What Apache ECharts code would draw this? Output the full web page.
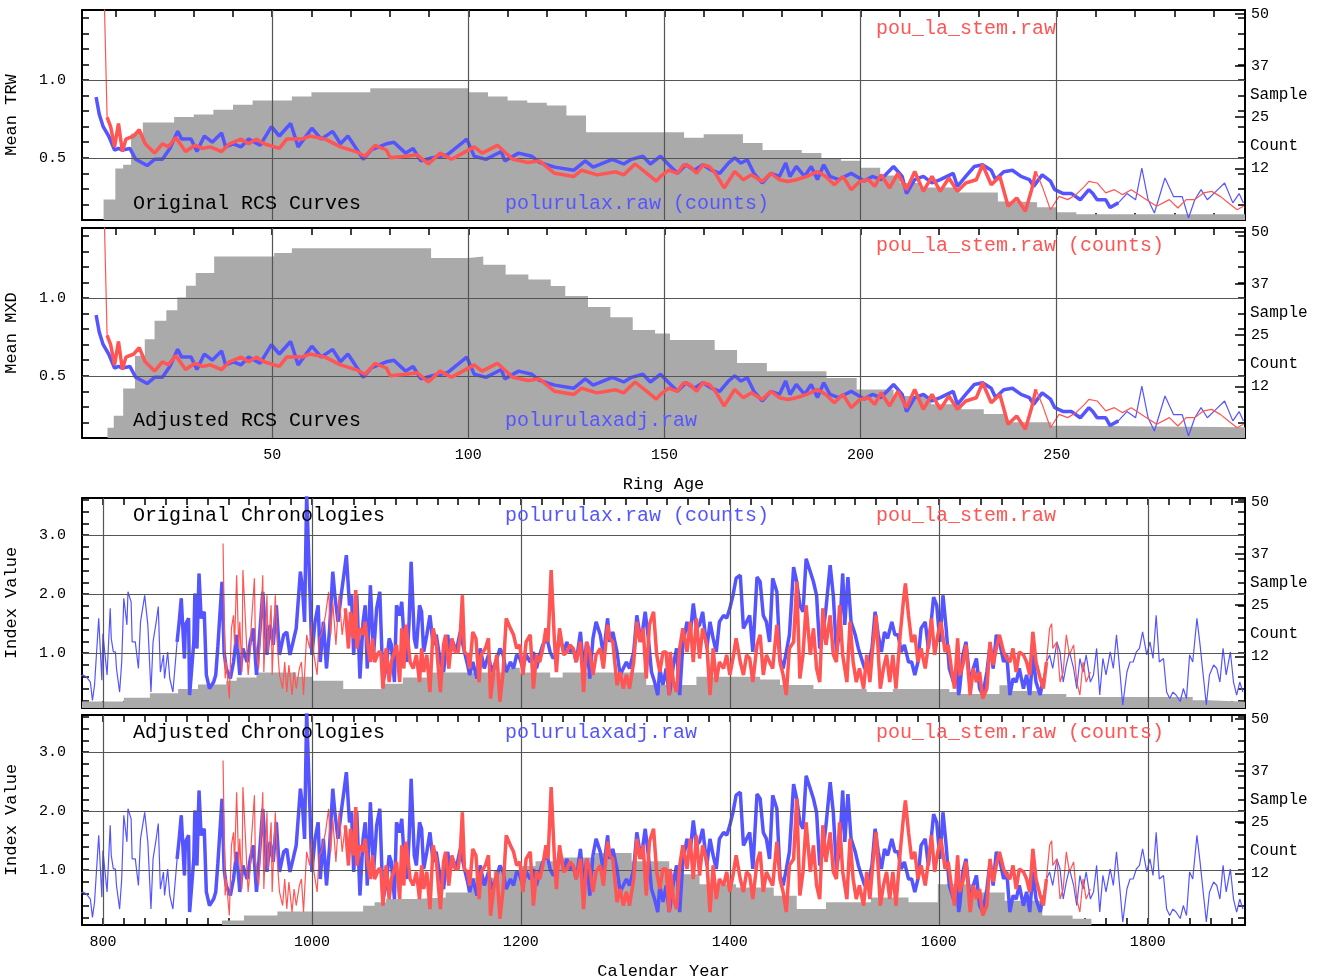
<!DOCTYPE html>
<html><head><meta charset="utf-8">
<script src="https://cdn.jsdelivr.net/npm/echarts@6.0.0/dist/echarts.min.js"></script>
<style>html,body{margin:0;padding:0;background:#fff}#c{width:1327px;height:980px}</style>
</head><body><div id="c"></div>
<script>
// ---- RCS curves: [ring age, mean value]
const rcsBlue = [[5.1,.89],[5.9,.78],[6.9,.70],[8.3,.64],[9.8,.55],[10.8,.56],[11.8,.55],[13.7,.56],[15.2,.49],[18.1,.45],[20.0,.49],[22.0,.49],[23.9,.56],[25.9,.67],[26.9,.62],[29.3,.62],[30.8,.54],[32.7,.64],[34.7,.60],[37.1,.66],[38.1,.57],[40.1,.59],[42.0,.57],[44.0,.62],[46.9,.58],[49.8,.70],[51.8,.64],[54.7,.72],[56.6,.57],[60.1,.69],[62.5,.62],[65.4,.67],[67.4,.59],[69.3,.64],[73.2,.49],[75.2,.55],[79.1,.59],[81.0,.60],[84.0,.53],[85.9,.56],[87.9,.48],[90.8,.50],[94.7,.52],[99.6,.62],[101.5,.51],[104.5,.49],[108.4,.54],[109.3,.48],[112.8,.53],[116.2,.51],[118.1,.47],[122.0,.44],[126.9,.42],[129.8,.48],[131.8,.44],[136.7,.49],[139.6,.46],[141.6,.49],[144.5,.51],[146.4,.46],
  [149.0,.51],[151.1,.455],[153.3,.40],[155.5,.455],[157.6,.42],[159.8,.455],[162.0,.42],[164.1,.40],[166.3,.466],[167.9,.50],[169.5,.466],[171.1,.487],[172.8,.40],[174.9,.338],[177.1,.40],[179.3,.38],[180.9,.466],[182.0,.38],[183.6,.444],[185.7,.38],[187.4,.444],[189.0,.36],[190.6,.455],[192.2,.38],[194.4,.36],[197.6,.40],[200.9,.35],[203.0,.38],[205.2,.36],[208.4,.444],[210.6,.38],[211.7,.27],[213.8,.36],[216.0,.38],[218.2,.338],[220.3,.36],[223.6,.40],[224.7,.316],[226.8,.38],[229.0,.444],[231.1,.455],[233.3,.42],[234.4,.36],[236.5,.41],[238.7,.42],[240.9,.38],[243.0,.36],[244.1,.316],[246.3,.39],[248.4,.35],[249.5,.295],[251.7,.27],[253.8,.27],[256.0,.23],[258.2,.295],[259.2,.27],[260.3,.23],[262.5,.23],[263.6,.18],[265.7,.21],[267.9,.27],[270.1,.23],[271.7,.434],[273.3,.23],[274.9,.145],[277.6,.37],[279.8,.25],[282.0,.25],[283.6,.113],[285.2,.23],[286.8,.295],[288.4,.23],[290.6,.284],[292.8,.338],[294.9,.21],[296.5,.27],[297.6,.21]];
const rcsRed = [[7.1,1.6],[7.9,.76],[8.8,.70],[9.8,.57],[10.8,.72],[11.8,.54],[12.7,.62],[14.7,.64],[16.1,.68],[17.6,.59],[20.0,.53],[22.0,.59],[23.5,.57],[25.4,.63],[27.9,.54],[30.3,.58],[32.2,.56],[34.2,.57],[37.1,.54],[39.1,.59],[42.0,.62],[44.0,.59],[45.9,.62],[47.9,.59],[51.8,.56],[53.7,.62],[57.6,.62],[59.6,.64],[63.5,.62],[67.4,.57],[71.3,.54],[73.7,.51],[76.2,.58],[79.1,.55],[80.1,.50],[84.0,.51],[86.9,.52],[89.8,.46],[92.8,.53],[95.7,.49],[98.6,.53],[101.5,.57],[103.5,.53],[107.4,.58],[111.3,.49],[115.2,.47],[118.1,.48],[122.0,.40],[126.9,.38],[128.9,.42],[132.8,.39],[137.6,.41],[139.6,.39],[142.5,.46],[145.5,.40],[147.9,.35],
  [149.0,.38],[151.1,.42],[153.3,.40],[154.9,.455],[156.5,.444],[158.2,.40],[159.8,.455],[161.4,.444],[163.0,.40],[165.2,.306],[167.9,.412],[170.1,.359],[172.2,.391],[174.9,.348],[177.1,.40],[179.3,.359],[181.4,.348],[183.6,.359],[186.3,.38],[189.0,.412],[191.1,.38],[193.3,.327],[195.5,.38],[197.6,.295],[199.8,.348],[202.0,.359],[203.6,.316],[205.2,.391],[207.4,.306],[209.5,.40],[211.7,.295],[213.8,.412],[216.0,.284],[218.2,.38],[220.3,.284],[222.5,.37],[224.7,.284],[226.8,.338],[229.5,.359],[231.1,.455],[233.3,.327],[235.5,.38],[237.6,.188],[239.8,.241],[242.0,.156],[243.6,.295],[244.7,.412],[246.3,.316],[248.4,.166],[250.6,.252],[252.8,.231],[254.9,.263],[257.1,.316],[258.2,.348],[260.3,.338],[262.5,.274],[264.7,.295],[266.8,.263],[269.0,.295],[272.2,.241],[275.5,.188],[278.7,.231],[280.9,.177],[283.0,.231],[285.2,.231],[287.4,.274],[289.5,.284],[291.7,.252],[293.8,.209],[296.0,.166],[297.6,.188]];
// sample counts by ring age (step)
const countOrigRcs = [[4,0],[7,5],[10,12.5],[12,13.4],[14,21],[17,23.7],[25,25],[30,25.6],[35,26.8],[40,28],[45,29],[55,30],[60,31],[75,32],[100,31],[105,30],[110,29],[115,28.5],[120,27.8],[125,25.4],[130,21.3],[155,20],[160,20.8],[170,18.7],[175,17],[185,16.3],[190,15],[195,14.4],[200,12.7],[205,10.8],[210,9],[215,7.9],[225,6.7],[235,4.5],[240,4.3],[245,3.1],[250,1.9],[255,1.4],[298,1.4]];
const countAdjRcs = [[6,0],[8,2.5],[9.6,5.4],[12,12],[15,20],[17.5,24],[20,28.5],[23,31],[25.8,34.1],[28,37],[30.5,40.1],[35.2,44.1],[50.5,44.9],[55,46.1],[84.7,46.1],[90.5,43.7],[100,44.1],[103.8,42.1],[109.5,39.7],[115.3,38.5],[121,36.9],[124.7,34.5],[130.5,31.8],[136.2,29.3],[141.9,26.2],[147.6,25.4],[151.4,23.8],[162.8,21.4],[168.5,18.2],[176.1,16.2],[191.3,14.6],[199,11.8],[208.4,10.2],[218,8.2],[225.7,7.0],[231.4,5.8],[237.2,3.8],[248.6,3.0],[255,2.6],[298,2.6]];

// ---- chronologies: [year, index]
const chronBlue = [[778,.60],[781,.63],[784,.60],[788,.51],[790,.20],[792,.46],[796,1.59],[799,.54],[800,1.33],[804,.63],[807,1.76],[808,1.25],[810,1.02],[812,1.02],[813,.74],[816,.34],[818,.85],[820,1.93],[823,1.48],[824,2.04],[827,1.87],[828,1.19],[831,1.19],[834,.74],[836,1.53],[840,1.98],[843,1.48],[846,.34],[848,1.19],[851,1.53],[853,1.79],[855,.68],[858,.97],[859,.57],[862,1.02],[864,.57],[867,.34],[871,1.19],[873,1.53],[875,1.93],[878,.91],[879,1.48],[882,1.59],[883,.29],[887,1.19],[888,2.01],[890,1.08],[892,2.35],[894,1.59],[897,1.70],[899,.63],[902,.40],[906,.51],[908,.63],[910,1.11],[914,2.21],[916,1.02],[918,.74],[922,.57],[925,.85],[928,1.31],[931,.63],[934,1.08],[938,.85],[941,1.19],[944,1.42],[947,.63],[950,1.31],[953,2.04],[957,.97],[960,1.48],[963,1.14],[966,1.81],[969,.97],[973,1.31],[976,1.36],[979,.97],[982,1.19],[985,1.42],[989,2.38],[991,2.10],[993,1.53],[995,3.70],[998,2.10],[1000,.97],[1003,1.53],[1006,1.81],[1008,.85],[1011,1.53],[1014,.74],[1017,1.42],[1020,2.38],[1022,1.98],[1025,1.53],[1028,1.98],[1031,2.38],[1033,2.66],[1036,1.81],[1038,1.98],[1040,.97],[1043,1.98],[1046,.57],[1049,1.53],[1051,1.81],[1053,.74],[1056,2.15],[1059,.97],[1062,1.76],[1065,2.04],
  [1068,.51],[1071,.74],[1074,1.25],[1076,1.14],[1079,.51],[1081,1.81],[1084,1.64],[1086,1.87],[1088,1.31],[1091,.85],[1093,1.53],[1095,2.55],[1098,1.25],[1100,1.08],[1103,1.81],[1105,1.70],[1107,1.02],[1110,1.31],[1113,1.64],[1116,1.14],[1119,1.31],[1123,.85],[1126,.68],[1130,1.31],[1132,.97],[1135,1.19],[1138,1.02],[1142,1.36],[1146,1.02],[1149,.80],[1151,.63],[1154,.85],[1158,.57],[1161,1.08],[1165,.74],[1169,.97],[1172,.68],[1176,.85],[1180,1.08],[1183,.97],[1186,.68],[1190,.85],[1193,.74],[1196,.97],[1199,.91],[1202,.74],[1205,.97],[1209,.85],[1212,1.02],[1215,.74],[1218,.97],[1221,1.14],[1225,1.25],[1228,1.02],[1231,.91],[1234,.97],[1237,1.31],[1241,1.02],[1244,1.19],[1247,1.02],[1250,1.08],[1253,.85],[1257,1.36],[1260,.74],[1263,1.19],[1266,.57],[1269,1.25],[1272,1.53],[1276,1.31],[1279,.97],[1283,1.59],[1285,1.19],[1288,1.36],[1292,1.02],[1295,.63],[1298,.74],[1301,.85],[1304,.74],[1308,1.02],[1311,1.64],[1315,1.19],[1319,1.70],[1322,1.25],[1325,.68],[1328,.51],[1331,.29],[1333,.74],[1336,.46],[1339,.74],[1342,.29],
  [1343,.40],[1346,.80],[1349,1.08],[1352,.29],[1355,1.14],[1359,1.53],[1362,1.31],[1365,1.84],[1368,1.42],[1371,1.48],[1374,1.70],[1378,1.08],[1381,1.53],[1384,1.25],[1387,1.02],[1390,1.53],[1394,1.64],[1397,1.59],[1400,1.76],[1403,1.98],[1406,2.27],[1410,2.32],[1413,1.42],[1416,1.53],[1419,1.64],[1422,1.02],[1426,2.29],[1429,2.21],[1432,1.64],[1435,1.53],[1438,1.19],[1441,2.27],[1445,2.04],[1448,.91],[1451,.74],[1454,1.02],[1457,1.31],[1461,2.46],[1464,2.21],[1467,1.81],[1470,1.70],[1473,2.60],[1477,2.38],[1480,2.21],[1483,1.98],[1486,1.08],[1489,1.31],[1492,1.76],[1496,2.49],[1499,1.98],[1502,1.02],[1505,1.36],[1508,2.35],[1510,1.48],[1513,2.29],[1516,1.53],[1520,1.31],[1523,1.08],[1526,.91],[1529,.74],[1532,.74],[1536,1.08],[1539,1.70],[1542,1.31],[1545,1.02],[1548,1.36],[1551,1.25],[1555,1.53],[1558,1.31],[1561,1.31],[1564,1.02],[1567,1.14],[1571,.85],[1574,.85],[1577,.63],[1580,.85],[1583,1.42],[1587,1.53],[1590,1.08],[1593,1.59],[1595,1.95],[1598,1.81],[1601,1.19],[1604,1.98],[1607,1.42],[1610,.74],[1614,.51],[1617,.74],[1619,.29],
  [1620,.40],[1623,.97],[1626,1.19],[1630,.46],[1633,.74],[1636,.91],[1639,.40],[1642,.29],[1646,.68],[1649,1.14],[1652,.74],[1655,1.31],[1658,1.19],[1662,.85],[1665,.97],[1668,.29],[1671,.57],[1674,.51],[1677,.74],[1681,.40],[1684,.63],[1687,.29],[1690,.97],[1693,.51],[1697,.29],[1700,.57],[1703,.85],[1706,.97],[1709,.74],[1713,1.19],[1716,1.02],[1719,.51],[1722,.80],[1725,1.02],[1729,.74],[1732,.40],[1735,.91],[1738,.68],[1741,.97],[1745,.51],[1748,.63],[1751,1.08],[1754,.29],[1757,.91],[1760,.63],[1764,1.02],[1767,.74],[1770,1.31],[1773,.74],[1776,.12],[1780,.68],[1783,.85],[1786,.85],[1789,1.02],[1792,1.08],[1795,1.36],[1799,.97],[1802,1.19],[1805,.91],[1808,1.64],[1811,.85],[1815,.91],[1818,.34],[1821,.23],[1824,.34],[1827,.29],[1831,.18],[1834,.40],[1837,.23],[1840,.97],[1843,.85],[1847,1.59],[1850,1.14],[1853,.63],[1856,.12],[1859,.63],[1863,.80],[1866,.74],[1869,.51],[1872,1.08],[1875,.63],[1879,1.02],[1882,.51],[1885,.29],[1888,.51],[1891,.34]];
const chronRed = [[915,2.86],[917,.57],[918,.85],[921,.23],[923,1.42],[925,1.64],[926,1.14],[928,2.32],[930,1.08],[931,1.53],[933,.68],[934,2.41],[936,1.70],[938,.97],[939,.63],[941,1.02],[942,1.48],[945,2.27],[946,1.14],[949,.74],[950,1.08],[953,2.32],[954,.68],[957,1.98],[958,1.02],[961,1.81],[962,.63],[965,1.98],[967,1.14],[969,.63],[972,.40],[974,.85],[976,.34],[978,.80],[981,.29],[983,.68],[985,.40],[988,.74],[990,.85],[992,.29],[995,1.31],[998,1.08],[1000,1.53],[1002,.97],[1005,.63],[1007,1.25],[1009,1.31],[1013,1.64],[1016,2.04],[1018,1.31],[1020,1.87],[1023,1.14],[1026,1.98],[1029,1.31],[1032,1.76],[1035,1.08],[1037,1.70],[1040,1.25],[1042,2.07],[1043,1.08],[1046,1.42],[1049,1.31],[1051,1.53],[1053,1.19],[1056,.85],[1058,1.25],[1060,.85],[1064,1.02],
  [1066,1.02],[1068,.40],[1071,1.08],[1074,.51],[1076,.85],[1079,1.02],[1081,1.14],[1084,.51],[1086,1.42],[1088,.74],[1090,1.48],[1092,1.19],[1094,.85],[1097,.74],[1100,.97],[1103,.51],[1105,1.08],[1107,.68],[1110,.97],[1113,.34],[1116,1.42],[1119,1.19],[1121,.74],[1123,.34],[1126,1.14],[1128,1.31],[1131,.74],[1134,1.25],[1137,1.02],[1140,1.02],[1142,1.31],[1144,1.98],[1146,1.02],[1149,.97],[1151,.74],[1154,1.36],[1157,1.25],[1160,.51],[1162,.97],[1166,1.08],[1169,1.25],[1171,.23],[1174,.68],[1177,.97],[1180,.18],[1183,.68],[1186,1.59],[1190,1.42],[1193,1.31],[1196,1.08],[1199,1.14],[1202,.63],[1205,1.19],[1209,1.31],[1212,.40],[1215,.97],[1218,.85],[1221,1.08],[1224,1.42],[1226,1.19],[1229,2.41],[1232,1.25],[1234,.68],[1237,1.42],[1241,.97],[1244,1.02],[1247,1.14],[1250,1.08],[1253,.85],[1257,1.19],[1260,.34],[1263,1.19],[1266,1.02],[1269,.63],[1272,.97],[1276,1.08],[1279,.74],[1283,1.48],[1285,1.25],[1288,1.19],[1292,.46],[1295,.68],[1298,.40],[1301,.63],[1304,.40],[1308,.85],[1311,1.53],[1314,1.19],[1317,1.42],[1320,.57],[1323,1.48],[1327,1.70],[1330,.97],[1333,.68],[1336,1.02],[1339,1.02],[1342,.29],
  [1343,1.02],[1346,.51],[1349,.34],[1352,1.08],[1355,1.42],[1359,1.02],[1362,1.53],[1365,.85],[1368,1.59],[1371,.91],[1374,1.42],[1378,1.14],[1381,.29],[1384,1.08],[1387,.51],[1390,.85],[1394,.74],[1397,.97],[1400,.63],[1403,.91],[1406,1.25],[1410,.85],[1413,.63],[1416,.97],[1419,.91],[1422,.51],[1426,1.14],[1429,1.31],[1432,.63],[1435,.97],[1438,.85],[1441,.74],[1445,1.48],[1448,.85],[1451,.63],[1454,.29],[1457,1.08],[1461,1.19],[1464,2.21],[1467,.57],[1470,.97],[1473,1.81],[1477,.97],[1480,1.42],[1483,.74],[1486,.51],[1489,1.76],[1492,1.14],[1496,1.64],[1499,.97],[1502,.85],[1505,1.81],[1508,.97],[1512,.51],[1515,1.53],[1518,.85],[1521,.51],[1524,.74],[1528,.40],[1531,.97],[1534,.51],[1537,1.14],[1540,1.64],[1544,.40],[1547,.74],[1550,.97],[1553,.51],[1556,.97],[1559,.40],[1563,1.31],[1566,1.87],[1568,2.18],[1571,1.64],[1574,1.19],[1577,1.31],[1580,.85],[1583,1.08],[1587,.74],[1590,1.14],[1593,1.59],[1596,.97],[1599,1.31],[1602,1.53],[1606,1.02],[1609,1.14],[1612,.74],[1615,.40],[1618,1.25],
  [1620,.63],[1623,.80],[1626,1.14],[1630,.29],[1633,.74],[1636,.51],[1639,.68],[1642,.23],[1646,.40],[1649,1.19],[1652,.80],[1655,1.08],[1658,1.31],[1662,1.02],[1665,.91],[1668,.85],[1671,1.08],[1674,.68],[1677,1.02],[1681,.97],[1684,.85],[1687,.63],[1690,1.36],[1693,.85],[1697,.57],[1700,.40],[1703,.85],[1706,1.42],[1708,1.50],[1709,1.08],[1713,1.19],[1716,.51],[1719,.68],[1722,1.31],[1725,.97],[1729,1.14],[1732,.51],[1735,.29],[1738,.85],[1741,.51],[1745,.68]];
const countOrigChron = [[778,1.6],[820,2.5],[845,3.6],[872,4.6],[891,5.7],[918,6.6],[928,7.4],[947,8.6],[985,7.6],[1001,6.6],[1030,4.6],[1067,5.9],[1087,7.4],[1113,8.6],[1183,9.8],[1199,8.6],[1228,7.4],[1240,8.6],[1320,5.6],[1368,7.6],[1429,6.9],[1448,5.6],[1480,4.6],[1531,3.9],[1556,4.6],[1610,3.9],[1620,3.4],[1658,5.5],[1666,4.1],[1697,3.4],[1722,2.7],[1843,1.9],[1859,1.5],[1893,1.5]];
const countAdjChron = [[914,1.1],[935,2.3],[967,3.3],[1049,4.7],[1060,5.5],[1071,6.3],[1099,6.7],[1128,7.9],[1149,11.5],[1174,13.1],[1199,14.3],[1214,15.5],[1235,16.4],[1271,17.5],[1306,15.5],[1342,12.3],[1371,9.9],[1406,9.1],[1442,7.1],[1464,3.9],[1492,5.5],[1535,6.7],[1571,5.5],[1599,9.9],[1635,7.9],[1663,5.9],[1699,2.3],[1728,1.5],[1746,0]];

// ---- tick labels
const ageLabels = [50, 100, 150, 200, 250];
const yearLabels = [800, 1000, 1200, 1400, 1600, 1800];
const rcsLabels = [0.5, 1.0];
const chronLabels = [1.0, 2.0, 3.0];
const countLabels = [12.5, 25, 37.5, 50];

const FONT = 'Liberation Mono';
const BLUE = '#5555ff', RED = '#ff5555', GRAY = '#aaaaaa';
const range = (a, b, s) => { const r = []; for (let v = a; v <= b + 1e-9; v += s) r.push(+v.toFixed(2)); return r; };
const within = (d, lo, hi) => d.filter(p => p[0] >= lo && p[0] <= hi);

const panels = [
  { top: 10, kind: 'rcs', count: countOrigRcs, yName: 'Mean TRW', blueThick: [0, 266], redThick: [7.8, 246],
    texts: [['Original RCS Curves', '#000', 133, 204], ['polurulax.raw (counts)', BLUE, 505, 204], ['pou_la_stem.raw', RED, 876, 29]] },
  { top: 228, kind: 'rcs', count: countAdjRcs, yName: 'Mean MXD', xName: 'Ring Age', blueThick: [0, 266], redThick: [7.8, 246],
    texts: [['Adjusted RCS Curves', '#000', 133, 421], ['polurulaxadj.raw', BLUE, 505, 421], ['pou_la_stem.raw (counts)', RED, 876, 246]] },
  { top: 498, kind: 'chron', count: countOrigChron, yName: 'Index Value', blueThick: [868, 1700], redThick: [1030, 1703],
    texts: [['Original Chronologies', '#000', 133, 516], ['polurulax.raw (counts)', BLUE, 505, 516], ['pou_la_stem.raw', RED, 876, 516]] },
  { top: 715, kind: 'chron', count: countAdjChron, yName: 'Index Value', xName: 'Calendar Year', blueThick: [868, 1700], redThick: [1030, 1703],
    texts: [['Adjusted Chronologies', '#000', 133, 733], ['polurulaxadj.raw', BLUE, 505, 733], ['pou_la_stem.raw (counts)', RED, 876, 733]] }
];

const grid = [], xAxis = [], yAxis = [], series = [], graphic = [];
const frame = { show: true, onZero: false, lineStyle: { color: '#000', width: 2 } };

panels.forEach((p, g) => {
  const rcs = p.kind === 'rcs';
  const xr = rcs ? [1.5, 298] : [780, 1893];
  const yr = rcs ? [0.1, 1.45] : [0.07, 3.63];
  const xTicks = rcs ? range(10, 290, 10) : range(800, 1880, 20);
  const yTicks = rcs ? range(0.2, 1.4, 0.1) : range(0.2, 3.6, 0.2);
  const blue = rcs ? rcsBlue : chronBlue, red = rcs ? rcsRed : chronRed;
  grid.push({ left: 82, right: 82, top: p.top, height: 210, outerBoundsMode: 'none', containLabel: false });
  const xBase = { type: 'value', gridIndex: g, min: xr[0], max: xr[1], splitLine: { show: false }, axisLine: frame,
    axisTick: { inside: true, length: 7, lineStyle: { color: '#000', width: 1.5 }, customValues: xTicks } };
  xAxis.push(Object.assign({}, xBase, { position: 'bottom',
    axisLabel: { show: !!p.xName, customValues: rcs ? ageLabels : yearLabels, formatter: v => String(v), fontFamily: FONT, fontSize: 15, color: '#000', margin: 10 },
    name: p.xName || '', nameLocation: 'middle', nameGap: 38, nameTextStyle: { fontFamily: FONT, fontSize: 17, color: '#000' } }));
  xAxis.push(Object.assign({}, xBase, { position: 'top', axisLabel: { show: false } }));
  const yBase = { type: 'value', gridIndex: g, min: yr[0], max: yr[1], splitLine: { show: false }, axisLine: frame,
    axisTick: { inside: true, length: 7, lineStyle: { color: '#000', width: 1.5 }, customValues: yTicks } };
  yAxis.push(Object.assign({}, yBase, { position: 'left',
    axisLabel: { customValues: rcs ? rcsLabels : chronLabels, formatter: v => v.toFixed(1), fontFamily: FONT, fontSize: 15, color: '#000', margin: 16 },
    name: p.yName, nameLocation: 'middle', nameGap: 62, nameRotate: 90, nameTextStyle: { fontFamily: FONT, fontSize: 17, color: '#000' } }));
  yAxis.push(Object.assign({}, yBase, { position: 'right', axisLabel: { show: false } }));
  yAxis.push({ type: 'value', gridIndex: g, min: 0, max: 51, position: 'right', splitLine: { show: false }, axisLine: { show: false },
    axisTick: { inside: true, length: 10, lineStyle: { color: '#000', width: 1.5 }, customValues: countLabels },
    axisLabel: { customValues: countLabels, formatter: v => String(Math.floor(v)), fontFamily: FONT, fontSize: 15, color: '#000', margin: 6 } });

  const xi = 2 * g, yi = 3 * g;
  series.push({ type: 'line', xAxisIndex: xi, yAxisIndex: yi + 2, data: p.count, step: 'end', symbol: 'none', z: 1,
    lineStyle: { width: 0 }, itemStyle: { color: GRAY }, areaStyle: { color: GRAY, opacity: 1 } });
  const gl = (rcs ? [50, 100, 150, 200, 250] : yearLabels).map(v => ({ xAxis: v }))
    .concat((rcs ? [0.5, 1.0] : [1.0, 2.0, 3.0]).map(v => ({ yAxis: v })));
  series.push({ type: 'line', xAxisIndex: xi, yAxisIndex: yi, data: blue, symbol: 'none', z: 2,
    lineStyle: { color: BLUE, width: 1.2 }, itemStyle: { color: BLUE },
    markLine: { silent: true, symbol: 'none', label: { show: false }, animation: false,
      lineStyle: { color: '#555', width: 1.2, type: 'solid' }, data: gl } });
  series.push({ type: 'line', xAxisIndex: xi, yAxisIndex: yi, data: within(blue, p.blueThick[0], p.blueThick[1]), symbol: 'none', z: 3,
    lineStyle: { color: BLUE, width: 3.5 }, itemStyle: { color: BLUE } });
  series.push({ type: 'line', xAxisIndex: xi, yAxisIndex: yi, data: red, symbol: 'none', z: 4,
    lineStyle: { color: RED, width: 1.2 }, itemStyle: { color: RED } });
  series.push({ type: 'line', xAxisIndex: xi, yAxisIndex: yi, data: within(red, p.redThick[0], p.redThick[1]), symbol: 'none', z: 5,
    lineStyle: { color: RED, width: 3.5 }, itemStyle: { color: RED } });

  p.texts.forEach(t => graphic.push({ type: 'text', left: t[2], top: t[3] - 10, z: 100,
    style: { text: t[0], fill: t[1], font: '20px "' + FONT + '"' } }));
  graphic.push({ type: 'text', left: 1250, top: p.top + 77, z: 100, style: { text: 'Sample', fill: '#000', font: '16px "' + FONT + '"' } });
  graphic.push({ type: 'text', left: 1250, top: p.top + 128, z: 100, style: { text: 'Count', fill: '#000', font: '16px "' + FONT + '"' } });
});

const chart = echarts.init(document.getElementById('c'));
chart.setOption({ animation: false, backgroundColor: '#fff', grid, xAxis, yAxis, series, graphic });
</script></body></html>
